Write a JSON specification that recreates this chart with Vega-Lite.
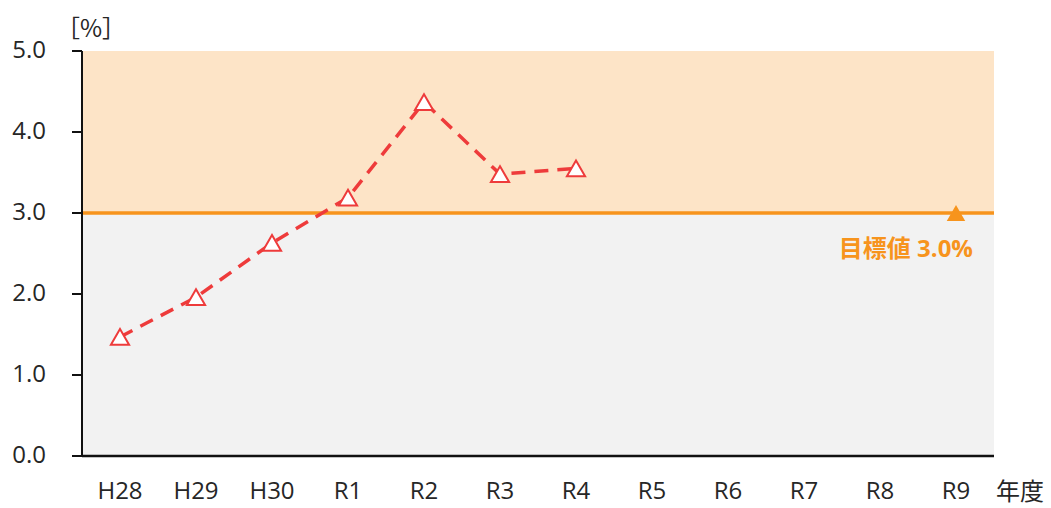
{
  "$schema": "https://vega.github.io/schema/vega-lite/v6.json",
  "autosize": "none",
  "width": 912,
  "height": 405,
  "padding": {"left": 82, "top": 51, "right": 57, "bottom": 52},
  "background": "white",
  "config": {
    "view": {"stroke": null},
    "font": "Open Sans, Noto Sans CJK JP",
    "axis": {"labelFont": "Open Sans, Noto Sans CJK JP", "titleFont": "Noto Sans CJK JP", "labelColor": "#262626", "titleColor": "#262626", "domainColor": "#111111", "tickColor": "#111111", "labelFontSize": 24, "titleFontSize": 24, "titleFontWeight": "normal", "grid": false, "zindex": 1, "translate": 0}
  },
  "datasets": {
    "bands": [
      {"lo": 3, "hi": 5, "zone": "above"},
      {"lo": 0, "hi": 3, "zone": "below"}
    ],
    "series": [
      {"year": "H28", "value": 1.47},
      {"year": "H29", "value": 1.96},
      {"year": "H30", "value": 2.63},
      {"year": "R1", "value": 3.19},
      {"year": "R2", "value": 4.37},
      {"year": "R3", "value": 3.48},
      {"year": "R4", "value": 3.55}
    ],
    "target": [
      {"year": "R9", "value": 3.0, "label": "目標値 3.0%"}
    ],
    "years": [
      {"year": "H28"}, {"year": "H29"}, {"year": "H30"}, {"year": "R1"}, {"year": "R2"}, {"year": "R3"},
      {"year": "R4"}, {"year": "R5"}, {"year": "R6"}, {"year": "R7"}, {"year": "R8"}, {"year": "R9"}
    ]
  },
  "layer": [
    {
      "data": {"name": "bands"},
      "mark": {"type": "rect"},
      "encoding": {
        "y": {"field": "lo", "type": "quantitative", "scale": {"domain": [0, 5], "nice": false}, "axis": {"values": [0, 1, 2, 3, 4, 5], "format": ".1f", "tickSize": 10, "labelPadding": 26, "domain": true, "domainColor": "#111111", "domainWidth": 2, "tickWidth": 2, "tickColor": "#111111", "zindex": 2, "title": "［%］", "titleAngle": 0, "titleAlign": "left", "titleBaseline": "middle", "titleX": -26, "titleY": -21}},
        "y2": {"field": "hi"},
        "color": {"field": "zone", "type": "nominal", "scale": {"domain": ["above", "below"], "range": ["#FDE4C7", "#F2F2F2"]}, "legend": null}
      }
    },
    {
      "data": {"name": "years"},
      "mark": {"type": "point", "opacity": 0},
      "encoding": {
        "x": {"field": "year", "type": "nominal", "sort": null, "scale": {"domain": ["H28","H29","H30","R1","R2","R3","R4","R5","R6","R7","R8","R9"], "type": "point", "padding": 0.5}, "axis": {"labelAngle": 0, "ticks": false, "labelPadding": 24, "domainWidth": 2.5, "zindex": 2, "title": "年度", "titleAlign": "left", "titleBaseline": "middle", "titleX": 914, "titleY": 37}}
      }
    },
    {
      "data": {"name": "target"},
      "mark": {"type": "rule", "color": "#F7941D", "strokeWidth": 3.5},
      "encoding": {"y": {"field": "value", "type": "quantitative"}}
    },
    {
      "data": {"name": "series"},
      "mark": {"type": "line", "color": "#EE3B3B", "strokeWidth": 3.5, "strokeDash": [14, 9]},
      "encoding": {
        "x": {"field": "year", "type": "nominal", "sort": null},
        "y": {"field": "value", "type": "quantitative"}
      }
    },
    {
      "data": {"name": "series"},
      "mark": {"type": "point", "shape": "triangle-up", "filled": true, "fill": "white", "stroke": "#EE3B3B", "strokeWidth": 2, "size": 330, "opacity": 1},
      "encoding": {
        "x": {"field": "year", "type": "nominal", "sort": null},
        "y": {"field": "value", "type": "quantitative"}
      }
    },
    {
      "data": {"name": "target"},
      "mark": {"type": "point", "shape": "triangle-up", "filled": true, "color": "#F7941D", "size": 340, "opacity": 1},
      "encoding": {
        "x": {"field": "year", "type": "nominal"},
        "y": {"field": "value", "type": "quantitative"}
      }
    },
    {
      "data": {"name": "target"},
      "mark": {"type": "text", "align": "right", "baseline": "middle", "dx": 17, "dy": 37, "fontSize": 24, "fontWeight": "bold", "color": "#F7941D", "font": "Open Sans, Noto Sans CJK JP"},
      "encoding": {
        "x": {"field": "year", "type": "nominal"},
        "y": {"field": "value", "type": "quantitative"},
        "text": {"field": "label"}
      }
    }
  ]
}
